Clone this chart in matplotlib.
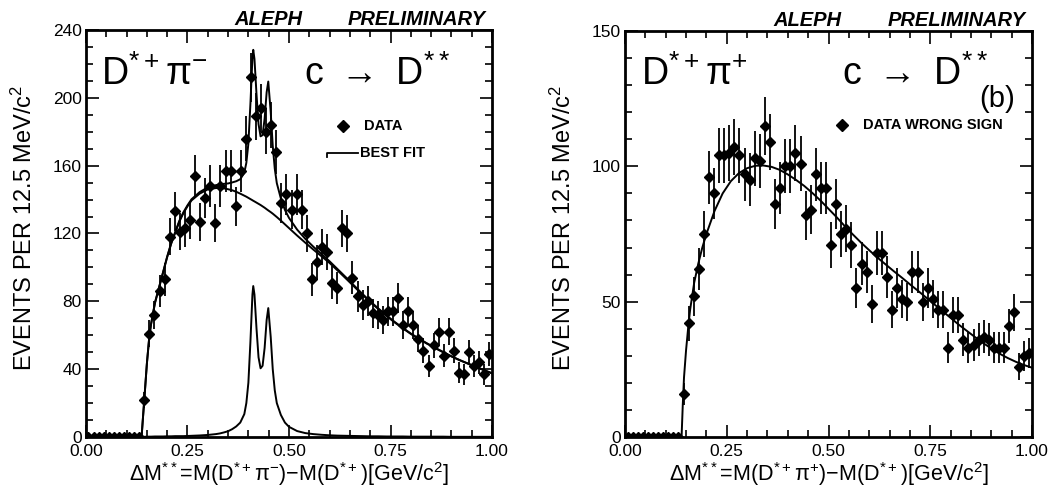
import numpy as np
import matplotlib
matplotlib.use("Agg")
import matplotlib.pyplot as plt
from matplotlib.ticker import MultipleLocator, FormatStrFormatter

plt.rcParams['font.family'] = ['Liberation Sans', 'DejaVu Sans']
plt.rcParams['mathtext.default'] = 'regular'

# bin centres, 12.5 MeV bins from 0 to 1 GeV
bin_centres = (np.arange(80) + 0.5) * 0.0125

# D*+ pi- (right sign) counts
counts_rs = [0] * 11 + [
    22, 61, 72, 86, 93, 118, 133, 121, 123, 128,
    154, 127, 141, 148, 126, 148, 157, 157, 136, 157,
    176, 212, 189, 194, 180, 184, 168, 138, 143, 134,
    143, 134, 120, 93, 103, 112, 109, 91, 88, 123,
    120, 94, 83, 78, 80, 73, 72, 69, 74, 74,
    82, 66, 74, 66, 58, 51, 42, 54, 62, 48,
    62, 51, 38, 37, 50, 42, 44, 37, 49]

# D*+ pi+ (wrong sign) counts
counts_ws = [0] * 11 + [
    16, 42, 52, 62, 75, 96, 90, 104, 104, 105,
    107, 104, 97, 95, 103, 102, 115, 109, 86, 92,
    100, 100, 105, 101, 82, 84, 97, 92, 92, 71,
    86, 75, 77, 71, 55, 64, 61, 49, 68, 68,
    59, 47, 55, 51, 50, 61, 61, 50, 55, 51,
    47, 47, 33, 45, 45, 36, 33, 34, 36, 37,
    36, 33, 33, 33, 41, 46, 26, 30, 31]

# best fit: background and D** signal
fit_x_rs = [0.137, 0.140, 0.1437, 0.150, 0.156, 0.160, 0.170, 0.180, 0.190, 0.200,
            0.210, 0.220, 0.230, 0.240, 0.250, 0.260, 0.280, 0.300, 0.320, 0.330,
            0.340, 0.350, 0.360, 0.370, 0.380, 0.390, 0.395, 0.400, 0.405, 0.410,
            0.412, 0.415, 0.420, 0.425, 0.430, 0.435, 0.440, 0.445, 0.449, 0.455,
            0.460, 0.465, 0.470, 0.480, 0.490, 0.500, 0.520, 0.540, 0.560, 0.580,
            0.600, 0.620, 0.640, 0.660, 0.680, 0.700, 0.720, 0.740, 0.760, 0.780,
            0.800, 0.820, 0.840, 0.860, 0.880, 0.900, 0.920, 0.940, 0.960, 0.980, 1.000]
fit_bkg_rs = [0, 10, 22, 43, 59, 66, 79, 88, 97, 106,
              114, 120.5, 127, 132, 136, 139.5, 143.5, 146, 146.8, 146.9,
              146.6, 146.1, 145.5, 144.6, 143.5, 142.3, 141.7, 141, 140.3, 139.6,
              139.3, 138.9, 138.2, 137.5, 136.8, 136.0, 135.2, 134.3, 133.6, 132.6,
              131.7, 130.7, 129.7, 127.6, 125.4, 123.2, 118.8, 114.6, 110.5, 106.6,
              102.6, 98.1, 93.5, 88.8, 84.1, 79.6, 75.4, 71.4, 67.6, 64.1,
              60.8, 57.8, 55, 52.4, 49.9, 47.5, 45.3, 43.3, 41.3, 39.4, 37.5]
fit_sig_rs = [0, 0.1, 0.1, 0.2, 0.2, 0.2, 0.3, 0.3, 0.3, 0.4,
              0.4, 0.5, 0.5, 0.5, 0.6, 0.7, 0.9, 1.2, 1.7, 2.1,
              2.7, 3.4, 4.6, 6.2, 8.5, 13.5, 20, 32, 56, 84,
              89, 84, 64, 47, 40.5, 42, 52.5, 69, 76, 59,
              40, 27.5, 20, 13, 8.5, 6, 3.5, 2.3, 1.7, 1.3,
              1.0, 0.8, 0.7, 0.6, 0.5, 0.4, 0.4, 0.3, 0.3, 0.3,
              0.2, 0.2, 0.2, 0.2, 0.2, 0.1, 0.1, 0.1, 0.1, 0.1, 0.1]

# fit to the wrong sign sample
fit_x_ws = [0.139, 0.142, 0.145, 0.150, 0.155, 0.160, 0.170, 0.180, 0.190, 0.200,
            0.220, 0.240, 0.260, 0.280, 0.300, 0.320, 0.340, 0.360, 0.380, 0.400,
            0.420, 0.440, 0.460, 0.480, 0.500, 0.520, 0.540, 0.560, 0.580, 0.600,
            0.620, 0.640, 0.660, 0.680, 0.700, 0.720, 0.740, 0.760, 0.780, 0.800,
            0.820, 0.840, 0.860, 0.880, 0.900, 0.920, 0.940, 0.960, 0.980, 1.000]
fit_y_ws = [0, 12, 22, 32, 40, 47, 57, 64, 70, 75,
            83.5, 90, 94.5, 97.5, 99.3, 100.2, 100.3, 99.8, 98.7, 97,
            95, 92.8, 90.2, 87.4, 84.3, 81.2, 77.9, 74.8, 71.8, 69,
            66.3, 63.8, 61.3, 58.9, 56.4, 54, 51.5, 49, 46.5, 44,
            41.5, 39.2, 36.9, 34.7, 32.7, 30.8, 29.2, 27.8, 26.6, 25.6]

fig = plt.figure(figsize=(10.52, 4.87), dpi=100)
ax1 = fig.add_axes([0.0817, 0.1027, 0.386, 0.8357])
ax2 = fig.add_axes([0.5941, 0.1027, 0.3869, 0.8337])


def style_axes(ax, ymax, ymajor):
    ax.set_xlim(0, 1)
    ax.set_ylim(0, ymax)
    ax.xaxis.set_major_locator(MultipleLocator(0.25))
    ax.xaxis.set_minor_locator(MultipleLocator(0.05))
    ax.yaxis.set_major_locator(MultipleLocator(ymajor))
    ax.yaxis.set_minor_locator(MultipleLocator(10))
    ax.xaxis.set_major_formatter(FormatStrFormatter('%.2f'))
    ax.tick_params(which='both', direction='in', top=True, right=True,
                   width=1.2, labelsize=12.5)
    ax.tick_params(which='major', length=9, pad=3)
    ax.tick_params(axis='x', which='major', pad=5)
    ax.tick_params(which='minor', length=5)
    for s in ax.spines.values():
        s.set_linewidth(2)
    ax.set_ylabel('EVENTS PER 12.5 MeV/c$^{2}$', fontsize=17)
    ax.yaxis.set_label_coords(-0.12, 0.515)
    ax.xaxis.set_label_coords(0.5, -0.058)


def draw_data(ax, counts):
    c = np.array(counts, dtype=float)
    ax.errorbar(bin_centres, c, yerr=np.sqrt(c), fmt='D', ms=5, color='k',
                ecolor='k', elinewidth=1.3, capsize=0, zorder=3)


# left panel: D*+ pi-
style_axes(ax1, 240, 40)
draw_data(ax1, counts_rs)
bkg = np.array(fit_bkg_rs)
sig = np.array(fit_sig_rs)
ax1.plot(fit_x_rs, bkg + sig, color='k', lw=1.4)
ax1.plot(fit_x_rs, bkg, color='k', lw=1.4)
ax1.plot(fit_x_rs, sig, color='k', lw=1.4)
ax1.set_xlabel(r'ΔM$^{**}$=M(D$^{*+}$π$^{-}$)$-$M(D$^{*+}$)[GeV/c$^{2}$]', fontsize=15.5)

ax1.text(0.037, 0.865, 'D$^{*+}$π$^{-}$', transform=ax1.transAxes, fontsize=27, va='baseline')
ax1.text(0.537, 0.865, 'c $\\rightarrow$ D$^{**}$', transform=ax1.transAxes, fontsize=27, va='baseline')

# legend drawn by hand, as in the original
ax1.plot([0.633], [0.764], 'D', color='k', ms=6, transform=ax1.transAxes)
ax1.text(0.685, 0.764, 'DATA', transform=ax1.transAxes, fontsize=10.5, weight='bold', va='center')
ax1.plot([0.594, 0.594, 0.670], [0.688, 0.698, 0.698], color='k', lw=1.3, transform=ax1.transAxes)
ax1.text(0.675, 0.698, 'BEST FIT', transform=ax1.transAxes, fontsize=10.5, weight='bold', va='center')

# right panel: D*+ pi+
style_axes(ax2, 150, 50)
draw_data(ax2, counts_ws)
ax2.plot(fit_x_ws, fit_y_ws, color='k', lw=1.4)
ax2.set_xlabel(r'ΔM$^{**}$=M(D$^{*+}$π$^{+}$)$-$M(D$^{*+}$)[GeV/c$^{2}$]', fontsize=15.5)

ax2.text(0.039, 0.867, 'D$^{*+}$π$^{+}$', transform=ax2.transAxes, fontsize=27, va='baseline')
ax2.text(0.534, 0.867, 'c $\\rightarrow$ D$^{**}$', transform=ax2.transAxes, fontsize=27, va='baseline')
ax2.text(0.958, 0.813, '(b)', transform=ax2.transAxes, fontsize=21, ha='right', va='baseline')
ax2.plot([0.532], [0.768], 'D', color='k', ms=6, transform=ax2.transAxes)
ax2.text(0.585, 0.768, 'DATA WRONG SIGN', transform=ax2.transAxes, fontsize=10.5, weight='bold', va='center')

for ax in (ax1, ax2):
    ax.text(0.365, 1.013, 'ALEPH', transform=ax.transAxes, fontsize=14.5,
            weight='bold', style='italic', va='baseline')
    ax.text(0.985, 1.013, 'PRELIMINARY', transform=ax.transAxes, fontsize=14.5,
            weight='bold', style='italic', va='baseline', ha='right')

fig.savefig('out.png', dpi=100)
